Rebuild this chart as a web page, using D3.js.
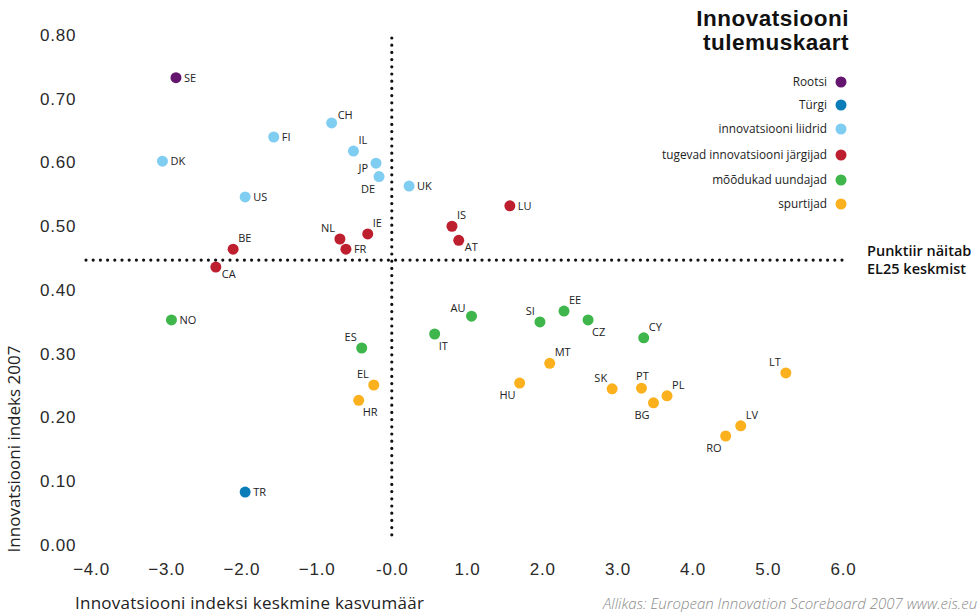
<!DOCTYPE html>
<html>
<head>
<meta charset="utf-8">
<script src="https://cdn.jsdelivr.net/npm/d3@7"></script>
<style>
  body { margin: 0; background: #fff; }
  svg { display: block; font-family: "Open Sans", "DejaVu Sans", sans-serif; }
  .tick text { fill: #2a2a2a; }
</style>
</head>
<body>
<svg id="chart" width="980" height="614"></svg>
<script>

// groups (legend order)
const groups = ['Rootsi', 'Türgi', 'innovatsiooni liidrid', 'tugevad innovatsiooni järgijad', 'mõõdukad uundajad', 'spurtijad']
const groupColors = ['#64166f', '#0a7cb8', '#80cdf2', '#bd1f2f', '#3fb64b', '#fbb01d']

// countries: code, growth rate, index 2007, group index
const countries = ['SE', 'DK', 'FI', 'CH', 'IL', 'JP', 'DE', 'UK', 'US',
    'LU', 'IS', 'AT', 'IE', 'NL', 'FR', 'BE', 'CA',
    'NO', 'AU', 'SI', 'EE', 'CZ', 'CY', 'IT', 'ES',
    'MT', 'HU', 'EL', 'HR', 'SK', 'PT', 'PL', 'BG', 'LT', 'LV', 'RO', 'TR']
const growth = [-2.87, -3.05, -1.57, -0.80, -0.51, -0.21, -0.17, 0.23, -1.95,
    1.57, 0.80, 0.89, -0.32, -0.69, -0.61, -2.11, -2.34,
    -2.93, 1.06, 1.97, 2.29, 2.61, 3.35, 0.57, -0.40,
    2.10, 1.70, -0.24, -0.44, 2.93, 3.32, 3.66, 3.48, 5.24, 4.64, 4.44, -1.95]
const index2007 = [0.733, 0.602, 0.640, 0.662, 0.618, 0.599, 0.578, 0.563, 0.546,
    0.532, 0.500, 0.478, 0.488, 0.480, 0.464, 0.464, 0.436,
    0.353, 0.359, 0.350, 0.367, 0.353, 0.325, 0.331, 0.309,
    0.285, 0.254, 0.251, 0.227, 0.245, 0.246, 0.234, 0.223, 0.270, 0.187, 0.171, 0.083]
const groupOf = [0, 2, 2, 2, 2, 2, 2, 2, 2,
    3, 3, 3, 3, 3, 3, 3, 3,
    4, 4, 4, 4, 4, 4, 4, 4,
    5, 5, 5, 5, 5, 5, 5, 5, 5, 5, 5, 1]

const euAverage = 0.447
const xTicks = [-4, -3, -2, -1, 0, 1, 2, 3, 4, 5, 6]
const yTicks = [0, 0.1, 0.2, 0.3, 0.4, 0.5, 0.6, 0.7, 0.8]

// where each country label sits relative to its dot
const labelPos = {
    SE: 'r', DK: 'r', FI: 'r', US: 'r', UK: 'r', LU: 'r', NO: 'r', TR: 'r', FR: 'r',
    CH: 'ar2', IL: 'ar', BE: 'ar', IE: 'ar', IS: 'ar', EE: 'ar', CY: 'ar', MT: 'ar', PL: 'ar', LV: 'ar',
    PT: 'a',
    NL: 'al', ES: 'al', EL: 'al', AU: 'al2', SI: 'al', SK: 'al', LT: 'al',
    JP: 'l',
    DE: 'bl', HU: 'bl', BG: 'bl', RO: 'bl',
    HR: 'br', IT: 'br', CZ: 'br', CA: 'br2', AT: 'br2'
}
const offsets = {
    r: [8, 4, 'start'], ar: [5, -7, 'start'], ar2: [6, -4, 'start'], a: [1, -8, 'middle'],
    al: [-5, -7, 'end'], al2: [-6, -4, 'end'], l: [-8, 9, 'end'],
    bl: [-4, 16, 'end'], br: [4, 16, 'start'], br2: [6, 11, 'start']
}

const svg = d3.select('#chart')

const x = d3.scaleLinear().domain([-4, 6]).range([91, 843])
const y = d3.scaleLinear().domain([0, 0.8]).range([545, 35])

// axes (labels only)
const xAxis = svg.append('g')
    .attr('transform', 'translate(0,560)')
    .call(d3.axisBottom(x).tickValues(xTicks).tickSize(0)
        .tickFormat(d => d === 0 ? '-0.0' : d3.format('.1f')(d)))
xAxis.select('.domain').remove()
xAxis.selectAll('text').style('font-size', '17px').style('letter-spacing', '0.8px').attr('dy', '0.71em')

const yAxis = svg.append('g')
    .attr('transform', 'translate(40,0)')
    .call(d3.axisLeft(y).tickValues(yTicks).tickSize(0).tickFormat(d3.format('.2f')))
yAxis.select('.domain').remove()
yAxis.selectAll('text').style('font-size', '17px').style('letter-spacing', '0.8px')
    .attr('text-anchor', 'start').attr('x', 0)

// dotted average lines
const dotted = g => g.attr('stroke', '#111').attr('stroke-width', 3.2)
    .attr('stroke-linecap', 'round').attr('stroke-dasharray', '0,7.2')

svg.append('line')
    .attr('x1', x(0)).attr('x2', x(0))
    .attr('y1', 38).attr('y2', y(0) - 4)
    .call(dotted)

svg.append('line')
    .attr('x1', 86).attr('x2', 847)
    .attr('y1', y(euAverage)).attr('y2', y(euAverage))
    .call(dotted)

svg.append('text')
    .style('font-size', '14.5px').style('font-weight', 600).attr('fill', '#111')
    .selectAll('tspan').data(['Punktiir näitab', 'EL25 keskmist']).join('tspan')
    .attr('x', 867).attr('y', (d, i) => 256 + i * 18)
    .text(d => d)

// points
const data = countries.map((c, i) => ({ code: c, gx: growth[i], gy: index2007[i], g: groupOf[i] }))

const pts = svg.append('g').selectAll('g').data(data).join('g')
    .attr('transform', d => `translate(${x(d.gx)},${y(d.gy)})`)

pts.append('circle')
    .attr('r', 5.5)
    .attr('fill', d => groupColors[d.g])

pts.append('text')
    .each(function (d) {
        const o = offsets[labelPos[d.code]]
        d3.select(this).attr('x', o[0]).attr('y', o[1]).attr('text-anchor', o[2])
    })
    .style('font-size', '11px')
    .attr('fill', '#222')
    .text(d => d.code)

// title
svg.append('text')
    .attr('text-anchor', 'end')
    .style('font-size', '22.5px').style('font-weight', 800).style('letter-spacing', '0.5px')
    .style('font-family', '"Liberation Sans", "DejaVu Sans", sans-serif')
    .attr('fill', '#111')
    .selectAll('tspan').data(['Innovatsiooni', 'tulemuskaart']).join('tspan')
    .attr('x', 849).attr('y', (d, i) => 26 + i * 24)
    .text(d => d)

// legend
const legend = svg.append('g').selectAll('g').data(groups).join('g')
    .attr('transform', (d, i) => `translate(841,${[82, 105, 129, 155, 180, 204][i]})`)

legend.append('circle').attr('r', 5.5).attr('fill', (d, i) => groupColors[i])
legend.append('text')
    .attr('x', -14).attr('y', 4).attr('text-anchor', 'end')
    .style('font-size', '11.8px').attr('fill', '#222')
    .text(d => d)

// axis titles
svg.append('text')
    .attr('x', 75).attr('y', 609)
    .style('font-size', '17px').style('letter-spacing', '0.25px').attr('fill', '#222')
    .text('Innovatsiooni indeksi keskmine kasvumäär')

svg.append('text')
    .attr('transform', 'translate(20,449) rotate(-90)')
    .attr('text-anchor', 'middle')
    .style('font-size', '17px').attr('fill', '#222')
    .text('Innovatsiooni indeks 2007')

svg.append('text')
    .attr('x', 603).attr('y', 609)
    .style('font-size', '15px').style('font-style', 'italic').style('font-weight', 300)
    .attr('fill', '#8a8a8a')
    .text('Allikas: European Innovation Scoreboard 2007 www.eis.eu')

</script>
</body>
</html>
